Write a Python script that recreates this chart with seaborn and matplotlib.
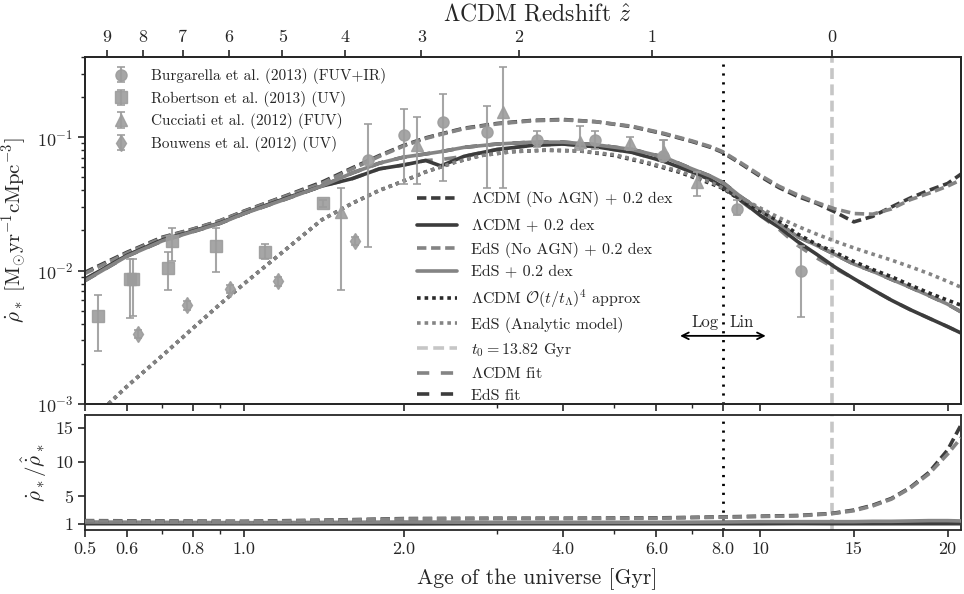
import numpy as np
import matplotlib
matplotlib.use("Agg")
import matplotlib.pyplot as plt
from matplotlib.ticker import FixedLocator, FixedFormatter, NullFormatter, LogLocator
import seaborn as sns

# ---------------- data ----------------
age = [0.5, 0.6, 0.7, 0.8, 0.9, 1.0, 1.2, 1.4, 1.6, 1.8, 2.0, 2.2, 2.35, 2.6, 3.0, 3.5,
       4.0, 4.6, 5.4, 6.2, 7.0, 7.6, 8.0, 9.0, 10.0, 11.0, 12.0, 13.0, 14.0, 15.0, 16.0,
       17.0, 18.0, 19.0, 20.0, 20.72]

sfr_lcdm_noagn = [0.0097, 0.0137, 0.0178, 0.0205, 0.0237, 0.0280, 0.0365, 0.046, 0.059, 0.073,
                  0.087, 0.099, 0.106, 0.117, 0.127, 0.134, 0.136, 0.131, 0.120, 0.106, 0.093,
                  0.084, 0.077, 0.063, 0.051, 0.042, 0.036, 0.032, 0.0275, 0.0232, 0.0255,
                  0.030, 0.035, 0.040, 0.045, 0.053]
sfr_eds_noagn = [0.0095, 0.0135, 0.0176, 0.0204, 0.0236, 0.0278, 0.0362, 0.045, 0.058, 0.072,
                 0.086, 0.098, 0.105, 0.116, 0.126, 0.133, 0.135, 0.131, 0.121, 0.107, 0.094,
                 0.085, 0.078, 0.064, 0.052, 0.043, 0.037, 0.0325, 0.029, 0.0268, 0.0265,
                 0.029, 0.034, 0.038, 0.043, 0.048]
sfr_lcdm_agn = [0.0086, 0.0130, 0.0170, 0.0198, 0.0228, 0.0270, 0.0350, 0.043, 0.049, 0.058,
                0.062, 0.067, 0.061, 0.072, 0.081, 0.087, 0.089, 0.085, 0.077, 0.066, 0.055,
                0.048, 0.0425, 0.0335, 0.026, 0.0212, 0.0165, 0.0133, 0.0106, 0.0087, 0.0072,
                0.0060, 0.0051, 0.0044, 0.0038, 0.0034]
sfr_eds_agn = [0.0084, 0.0128, 0.0167, 0.0196, 0.0226, 0.0268, 0.0345, 0.043, 0.054, 0.064,
               0.071, 0.075, 0.078, 0.084, 0.089, 0.092, 0.092, 0.088, 0.081, 0.071, 0.058,
               0.051, 0.046, 0.0355, 0.0285, 0.0225, 0.0180, 0.0155, 0.0132, 0.0112, 0.0099,
               0.0086, 0.0075, 0.0065, 0.0056, 0.0049]
fit_lcdm = [0.0086, 0.0130, 0.0170, 0.0198, 0.0228, 0.0270, 0.0350, 0.043, 0.049, 0.058,
            0.062, 0.067, 0.068, 0.072, 0.081, 0.087, 0.089, 0.085, 0.077, 0.066, 0.055,
            0.048, 0.0425, 0.0330, 0.026, 0.0205, 0.0155, 0.0125, 0.0104, 0.0087, 0.0072,
            0.0060, 0.0051, 0.0044, 0.0038, 0.0034]
fit_eds = [0.0084, 0.0128, 0.0167, 0.0196, 0.0226, 0.0268, 0.0345, 0.043, 0.054, 0.064,
           0.071, 0.075, 0.078, 0.084, 0.089, 0.092, 0.092, 0.088, 0.081, 0.071, 0.058,
           0.051, 0.046, 0.0355, 0.0285, 0.0225, 0.0180, 0.0155, 0.0132, 0.0112, 0.0099,
           0.0086, 0.0075, 0.0065, 0.0056, 0.0049]

age_model = [0.5, 0.557, 0.6, 0.7, 0.8, 0.9, 1.0, 1.2, 1.4, 1.6, 1.8, 2.0, 2.2, 2.5, 2.8,
             3.2, 3.7, 4.3, 5.0, 5.75, 6.6, 7.6, 8.0, 9.0, 10.0, 11.0, 12.0, 13.0, 14.0,
             15.0, 16.0, 17.0, 18.0, 19.0, 20.0, 20.72]
sfr_lcdm_approx = [0.00072, 0.00102, 0.00135, 0.0023, 0.0037, 0.0056, 0.0080, 0.0145, 0.024,
                   0.032, 0.040, 0.047, 0.055, 0.065, 0.073, 0.078, 0.080, 0.079, 0.073,
                   0.064, 0.055, 0.045, 0.0415, 0.0335, 0.028, 0.0235, 0.0188, 0.0158,
                   0.0137, 0.0117, 0.0102, 0.0090, 0.0078, 0.0068, 0.0060, 0.0055]
sfr_eds_analytic = [0.00072, 0.00102, 0.00135, 0.0023, 0.0037, 0.0056, 0.0080, 0.0145, 0.024,
                    0.032, 0.040, 0.047, 0.055, 0.065, 0.073, 0.078, 0.080, 0.079, 0.074,
                    0.065, 0.056, 0.046, 0.0418, 0.035, 0.0295, 0.025, 0.0215, 0.0188,
                    0.0166, 0.0148, 0.0133, 0.0120, 0.0107, 0.0095, 0.0083, 0.0075]

age_ratio = [0.5, 0.7, 1.0, 1.5, 2.0, 3.0, 4.0, 6.0, 8.0, 10.0, 12.0, 13.8, 15.0, 16.0, 17.0,
             18.0, 19.0, 20.0, 20.72]
ratio_lcdm_noagn = [1.45, 1.4, 1.35, 1.55, 1.75, 1.8, 1.8, 1.85, 2.0, 2.1, 2.2, 2.5, 3.0, 3.7,
                    4.7, 6.3, 8.5, 11.8, 15.5]
ratio_eds_noagn = [1.4, 1.35, 1.3, 1.5, 1.7, 1.75, 1.75, 1.8, 1.95, 2.05, 2.15, 2.45, 2.9, 3.6,
                   4.6, 6.2, 8.3, 11.2, 13.6]
ratio_lcdm_agn = [1.0, 1.0, 1.0, 1.0, 0.98, 1.0, 1.0, 1.0, 1.0, 1.0, 1.02, 1.0, 1.0, 1.0, 1.0,
                  1.0, 1.0, 1.0, 1.0]
ratio_eds_agn = [1.25, 1.2, 1.15, 1.2, 1.25, 1.2, 1.2, 1.2, 1.25, 1.3, 1.3, 1.3, 1.3, 1.35,
                 1.35, 1.4, 1.45, 1.45, 1.4]

# observations: age [Gyr], SFRD, lower and upper ends of the error bar
burg_age = [1.71, 2.00, 2.37, 2.87, 3.57, 4.60, 6.17, 8.77, 12.19]
burg_sfr = [0.068, 0.1035, 0.130, 0.109, 0.095, 0.095, 0.072, 0.029, 0.0100]
burg_lo = [0.015, 0.045, 0.047, 0.042, 0.085, 0.082, 0.066, 0.026, 0.0045]
burg_hi = [0.125, 0.163, 0.212, 0.171, 0.112, 0.111, 0.095, 0.034, 0.0154]

rob_age = [0.53, 0.608, 0.617, 0.717, 0.73, 0.884, 1.094, 1.41]
rob_sfr = [0.0046, 0.0086, 0.0087, 0.0105, 0.0168, 0.0154, 0.0139, 0.0319]
rob_lo = [0.0025, 0.0044, 0.0046, 0.0072, 0.0119, 0.0097, 0.0123, 0.030]
rob_hi = [0.0066, 0.0123, 0.0123, 0.0137, 0.021, 0.021, 0.0157, 0.034]

cuc_age = [1.52, 2.12, 3.08, 4.30, 5.35, 6.20, 7.16]
cuc_sfr = [0.0273, 0.087, 0.154, 0.0916, 0.090, 0.078, 0.046]
cuc_lo = [0.0072, 0.045, 0.042, 0.080, 0.080, 0.070, 0.036]
cuc_hi = [0.042, 0.141, 0.334, 0.121, 0.100, 0.095, 0.055]

bouw_age = [0.63, 0.78, 0.94, 1.16, 1.62]
bouw_sfr = [0.00336, 0.0055, 0.0073, 0.0083, 0.0168]
bouw_lo = [0.0031, 0.0051, 0.0068, 0.0077, 0.0156]
bouw_hi = [0.0036, 0.0059, 0.0078, 0.0089, 0.0180]

age_today = 13.82
age_split = 8.0

redshift_labels = ["9", "8", "7", "6", "5", "4", "3", "2", "1", "0"]
redshift_ages = [0.55, 0.643, 0.766, 0.935, 1.18, 1.55, 2.16, 3.30, 5.89, 13.82]

age_ticks = [0.5, 0.6, 0.8, 1.0, 2.0, 4.0, 6.0, 8.0, 10.0, 15.0, 20.0]
age_ticklabels = ["0.5", "0.6", "0.8", "1.0", "2.0", "4.0", "6.0", "8.0", "10", "15", "20"]
age_minor = [0.7, 0.9, 3.0, 5.0, 7.0]

# ---------------- style ----------------
sns.set_theme(style="ticks")
plt.rcParams["font.family"] = ["cmr10"]
plt.rcParams["mathtext.fontset"] = "cm"
plt.rcParams["axes.formatter.use_mathtext"] = True
plt.rcParams["axes.unicode_minus"] = False
plt.rcParams["axes.linewidth"] = 1.3
plt.rcParams["xtick.major.width"] = 1.2
plt.rcParams["ytick.major.width"] = 1.2
plt.rcParams["xtick.minor.width"] = 1.0
plt.rcParams["ytick.minor.width"] = 1.0

DARK = "#3c3c3c"
MID = "#848484"
LIGHT = "#c6c6c6"
OBS = "#9c9c9c"

LW = 2.6
DASH = (0, (2.6, 1.3))
DOT = (0, (1.0, 1.1))
FIT = (0, (3.4, 3.2))


# log axis up to the split age, linear beyond it
def to_axis(t):
    t = np.asarray(t, dtype=float)
    lg = np.log10(np.clip(t, 1e-6, None))
    return np.where(t <= age_split, lg, np.log10(age_split) + 0.0354 * (t - age_split))


def from_axis(u):
    u = np.asarray(u, dtype=float)
    ub = np.log10(age_split)
    return np.where(u <= ub, 10 ** np.minimum(u, ub), age_split + (u - ub) / 0.0354)


fig = plt.figure(figsize=(9.64, 5.94), dpi=100)
ax = fig.add_axes([0.088, 0.320, 0.909, 0.584])
axr = fig.add_axes([0.088, 0.108, 0.909, 0.193], sharex=ax)
ax.set_xscale("function", functions=(to_axis, from_axis))
ax.set_yscale("log")
ax.set_xlim(0.5, 20.72)
ax.set_ylim(1e-3, 0.40)


def curve(axis, x, y, color, ls, lw=LW, z=3):
    sns.lineplot(x=x, y=y, ax=axis, color=color, linestyle=ls, linewidth=lw,
                 errorbar=None, legend=False, zorder=z)
    return axis.lines[-1]


h_lcdm_fit = curve(ax, age, fit_lcdm, MID, FIT, z=2.5)
h_eds_fit = curve(ax, age, fit_eds, DARK, FIT, z=2.5)
h_lcdm_noagn = curve(ax, age, sfr_lcdm_noagn, DARK, DASH)
h_eds_noagn = curve(ax, age, sfr_eds_noagn, MID, DASH)
h_lcdm_agn = curve(ax, age, sfr_lcdm_agn, DARK, "-")
h_eds_agn = curve(ax, age, sfr_eds_agn, MID, "-")
h_lcdm_approx = curve(ax, age_model, sfr_lcdm_approx, "#2a2a2a", DOT)
h_eds_analytic = curve(ax, age_model, sfr_eds_analytic, MID, DOT)

h_today = ax.axvline(age_today, color=LIGHT, lw=LW, linestyle=(0, (3.0, 1.5)), zorder=2)
ax.axvline(age_split, color="black", lw=2.0, linestyle=(0, (0.8, 2.4)), zorder=2)


def obs(x, y, lo, hi, marker, ms):
    y = np.asarray(y)
    yerr = [y - np.asarray(lo), np.asarray(hi) - y]
    return ax.errorbar(x, y, yerr=yerr, fmt=marker, color=OBS, ms=ms, capsize=3.2,
                       elinewidth=1.5, capthick=1.3, alpha=0.9, zorder=4)


e_burg = obs(burg_age, burg_sfr, burg_lo, burg_hi, "o", 8)
e_rob = obs(rob_age, rob_sfr, rob_lo, rob_hi, "s", 8)
e_cuc = obs(cuc_age, cuc_sfr, cuc_lo, cuc_hi, "^", 8)
e_bouw = obs(bouw_age, bouw_sfr, bouw_lo, bouw_hi, "d", 8)

# Log / Lin marker around the split
ax.annotate("", xy=(6.65, 0.00324), xytext=(10.3, 0.00324),
            arrowprops=dict(arrowstyle="<->", color="black", lw=1.3, shrinkA=0, shrinkB=0))
ax.text(7.85, 0.0041, "Log", ha="right", va="center", fontsize=12)
ax.text(8.35, 0.0041, "Lin", ha="left", va="center", fontsize=12)

leg1 = ax.legend([e_burg, e_rob, e_cuc, e_bouw],
                 ["Burgarella et al. (2013) (FUV+IR)", "Robertson et al. (2013) (UV)",
                  "Cucciati et al. (2012) (FUV)", "Bouwens et al. (2012) (UV)"],
                 loc="upper left", bbox_to_anchor=(0.014, 0.986), borderaxespad=0,
                 frameon=False, fontsize=11.0, handlelength=2.35, handletextpad=0.8,
                 labelspacing=0.44)
ax.add_artist(leg1)
ax.legend([h_lcdm_noagn, h_lcdm_agn, h_eds_noagn, h_eds_agn, h_lcdm_approx, h_eds_analytic,
           h_today, h_lcdm_fit, h_eds_fit],
          [r"$\Lambda$CDM (No $\Lambda$GN) + 0.2 dex", r"$\Lambda$CDM + 0.2 dex",
           "EdS (No AGN) + 0.2 dex", "EdS + 0.2 dex",
           r"$\Lambda$CDM $\mathcal{O}(t/t_\Lambda)^4$ approx", "EdS (Analytic model)",
           r"$t_0 = 13.82$ Gyr", r"$\Lambda$CDM fit", "EdS fit"],
          loc="upper left", bbox_to_anchor=(0.372, 0.637), borderaxespad=0,
          frameon=False, fontsize=11.5, handlelength=2.5, handletextpad=0.85,
          labelspacing=0.47)

ax.set_ylabel(r"$\dot{\rho}_*\ [\mathrm{M_{\odot}yr^{-1}cMpc^{-3}}]$", fontsize=15, labelpad=5)
ax.yaxis.set_major_locator(LogLocator(base=10, numticks=10))
ax.yaxis.set_minor_locator(LogLocator(base=10, subs=np.arange(2, 10), numticks=20))
ax.tick_params(axis="x", which="both", labelbottom=False)
ax.tick_params(axis="both", which="major", length=5, labelsize=13)
ax.tick_params(axis="both", which="minor", length=3)

# redshift axis along the top
axt = ax.twiny()
axt.set_xscale("function", functions=(to_axis, from_axis))
axt.set_xlim(ax.get_xlim())
axt.xaxis.set_major_locator(FixedLocator(redshift_ages))
axt.xaxis.set_major_formatter(FixedFormatter(redshift_labels))
axt.xaxis.set_minor_locator(FixedLocator([]))
axt.tick_params(axis="x", which="major", length=5, labelsize=13)
axt.set_xlabel(r"$\Lambda$CDM Redshift $\hat{z}$", fontsize=17, labelpad=7)
axt.xaxis.label.set_x(0.516)

# ratio panel
curve(axr, age_ratio, ratio_lcdm_agn, DARK, "-")
curve(axr, age_ratio, ratio_eds_agn, MID, "-")
curve(axr, age_ratio, ratio_lcdm_noagn, DARK, DASH)
curve(axr, age_ratio, ratio_eds_noagn, MID, DASH)
axr.axvline(age_today, color=LIGHT, lw=LW, linestyle=(0, (3.0, 1.5)), zorder=2)
axr.axvline(age_split, color="black", lw=2.0, linestyle=(0, (0.8, 2.4)), zorder=2)
axr.set_ylim(0.1, 16.9)
axr.set_yticks([1, 5, 10, 15])
axr.set_yticklabels(["1", "5", "10", "15"])
axr.xaxis.set_major_locator(FixedLocator(age_ticks))
axr.xaxis.set_major_formatter(FixedFormatter(age_ticklabels))
axr.xaxis.set_minor_locator(FixedLocator(age_minor))
axr.xaxis.set_minor_formatter(NullFormatter())
axr.tick_params(axis="both", which="major", length=5, labelsize=13)
axr.tick_params(axis="both", which="minor", length=3)
axr.set_xlabel("Age of the universe [Gyr]", fontsize=15.6, labelpad=8)
axr.xaxis.label.set_x(0.516)
axr.set_ylabel(r"$\dot{\rho}_*/\hat{\dot{\rho}}_*$", fontsize=15, labelpad=4)
ax.set_xlim(0.5, 20.72)

fig.savefig("out.png", dpi=100)
